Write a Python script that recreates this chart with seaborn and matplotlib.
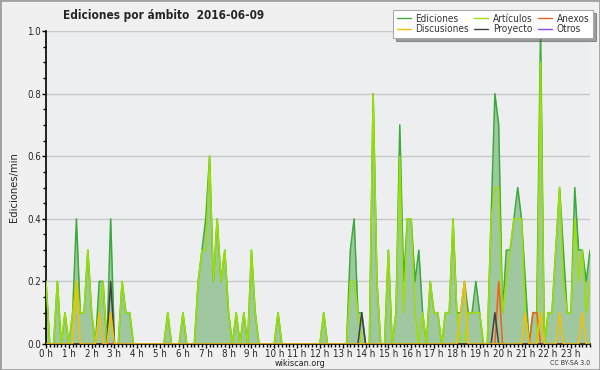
import matplotlib
matplotlib.use("Agg")
import matplotlib.pyplot as plt
import seaborn as sns
import numpy as np
import pandas as pd
from matplotlib.ticker import MultipleLocator

# edits per minute, 10-minute bins (0:00 .. 23:50)
ediciones = [
    0.2, 0, 0, 0.2, 0, 0.1, 0, 0.1, 0.4, 0.1, 0.1, 0.3,
    0.1, 0, 0.2, 0.2, 0, 0.4, 0, 0, 0.2, 0.1, 0.1, 0,
    0, 0, 0, 0, 0, 0, 0, 0, 0.1, 0, 0, 0,
    0.1, 0, 0, 0, 0.2, 0.3, 0.4, 0.6, 0.2, 0.4, 0.2, 0.3,
    0.1, 0, 0.1, 0, 0.1, 0, 0.3, 0.1, 0, 0, 0, 0,
    0, 0.1, 0, 0, 0, 0, 0, 0, 0, 0, 0, 0,
    0, 0.1, 0, 0, 0, 0, 0, 0, 0.3, 0.4, 0.1, 0.1,
    0, 0, 0.8, 0.2, 0, 0, 0.3, 0, 0.1, 0.7, 0.2, 0.4,
    0.4, 0.2, 0.3, 0.1, 0, 0.2, 0.1, 0.1, 0, 0.1, 0.1, 0.4,
    0.1, 0.1, 0.2, 0.1, 0.1, 0.2, 0.1, 0, 0, 0.4, 0.8, 0.7,
    0.1, 0.3, 0.3, 0.4, 0.5, 0.4, 0.2, 0, 0.1, 0.1, 1.0, 0,
    0.1, 0.1, 0.3, 0.5, 0.3, 0.1, 0.1, 0.5, 0.3, 0.3, 0.2, 0.3,
]
articulos = [
    0.2, 0, 0, 0.2, 0, 0.1, 0, 0.1, 0.2, 0.1, 0.1, 0.3,
    0.1, 0, 0.1, 0.2, 0, 0.1, 0, 0, 0.2, 0.1, 0.1, 0,
    0, 0, 0, 0, 0, 0, 0, 0, 0.1, 0, 0, 0,
    0.1, 0, 0, 0, 0.2, 0.3, 0.3, 0.6, 0.2, 0.4, 0.2, 0.3,
    0.1, 0, 0.1, 0, 0.1, 0, 0.3, 0.1, 0, 0, 0, 0,
    0, 0.1, 0, 0, 0, 0, 0, 0, 0, 0, 0, 0,
    0, 0.1, 0, 0, 0, 0, 0, 0, 0.2, 0.2, 0.1, 0,
    0, 0, 0.8, 0.2, 0, 0, 0.3, 0, 0.1, 0.6, 0.1, 0.4,
    0.4, 0.1, 0, 0.1, 0, 0.2, 0.1, 0.1, 0, 0.1, 0.1, 0.4,
    0.1, 0, 0, 0.1, 0.1, 0.1, 0.1, 0, 0, 0.4, 0.5, 0.5,
    0.1, 0.2, 0.3, 0.4, 0.4, 0.4, 0.1, 0, 0, 0, 0.9, 0,
    0.1, 0.1, 0.3, 0.5, 0.2, 0.1, 0.1, 0.4, 0.2, 0.3, 0.1, 0.2,
]
discusiones = [0] * 144
for i, v in {8: 0.2, 14: 0.1, 17: 0.1, 109: 0.1, 110: 0.2, 126: 0.1,
             130: 0.1, 135: 0.1, 141: 0.1}.items():
    discusiones[i] = v
proyecto = [0] * 144
for i, v in {17: 0.2, 83: 0.1, 118: 0.1}.items():
    proyecto[i] = v
anexos = [0] * 144
for i, v in {119: 0.2, 128: 0.1, 129: 0.1}.items():
    anexos[i] = v
otros = [0] * 144

hours = np.arange(144) / 6
df = pd.DataFrame({
    'hora': hours,
    'Ediciones': ediciones,
    'Artículos': articulos,
    'Discusiones': discusiones,
    'Proyecto': proyecto,
    'Anexos': anexos,
    'Otros': otros,
})

sns.set_style("ticks")
plt.rcParams['font.family'] = ['DejaVu Sans']
plt.rcParams['font.stretch'] = 'condensed'

colors = {
    'Ediciones': '#3aaa3a',
    'Artículos': '#9be000',
    'Discusiones': '#f5c000',
    'Proyecto': '#404040',
    'Anexos': '#f06020',
    'Otros': '#9040f0',
}

fig = plt.figure(figsize=(6, 3.7), dpi=100, facecolor='#f0f0f0')
ax = fig.add_axes([46 / 600, 1 - 344 / 370, 544 / 600, 313 / 370])
ax.set_facecolor('#eceef0')

ax.fill_between(df['hora'], df['Ediciones'], color='#a0c8a0', lw=0, zorder=1)
for name in ['Ediciones', 'Artículos', 'Otros', 'Anexos', 'Proyecto', 'Discusiones']:
    sns.lineplot(data=df, x='hora', y=name, ax=ax, color=colors[name],
                 lw=1.1, label=name, zorder=3, legend=False)

ax.set_xlim(0, 143 / 6)
ax.set_ylim(0, 1.0)
ax.xaxis.set_major_locator(MultipleLocator(1))
ax.xaxis.set_minor_locator(MultipleLocator(1 / 6))
ax.xaxis.set_major_formatter(plt.FuncFormatter(lambda v, p: f"{int(round(v))} h"))
ax.yaxis.set_major_locator(MultipleLocator(0.2))
ax.yaxis.set_minor_locator(MultipleLocator(0.05))
ax.yaxis.set_major_formatter(plt.FuncFormatter(lambda v, p: f"{v:.1f}"))
ax.tick_params(axis='both', which='major', labelsize=7, length=3, width=1,
               color='black', pad=0.5)
ax.tick_params(axis='both', which='minor', length=2.5, width=1, color='black')
ax.grid(axis='y', color='#c8c8c8', lw=1)
ax.set_axisbelow(True)
for s in ['top', 'right']:
    ax.spines[s].set_visible(False)
for s in ['left', 'bottom']:
    ax.spines[s].set_linewidth(1.2)
    ax.spines[s].set_color('black')
ax.set_xlabel('')
ax.set_ylabel('Ediciones/min', fontsize=8, labelpad=6)

handles = {h.get_label(): h for h in ax.get_lines() if h.get_label() in colors}
order = ['Ediciones', 'Discusiones', 'Artículos', 'Proyecto', 'Anexos', 'Otros']
leg = fig.legend([handles[n] for n in order], order, ncol=3,
                 loc='upper right', bbox_to_anchor=(593 / 600, 1 - 10 / 370),
                 fontsize=7.2, frameon=True, fancybox=False, shadow=True,
                 handlelength=1.4, handletextpad=0.5, columnspacing=0.5,
                 labelspacing=0.1, borderpad=0.35, borderaxespad=0)
leg.get_frame().set_edgecolor('#aaaaaa')
leg.get_frame().set_facecolor('white')
leg.get_frame().set_linewidth(0.8)
for h in leg.legend_handles:
    h.set_linewidth(1.0)
for t in leg.get_texts():
    t.set_color('#333333')

fig.text(164 / 600, 1 - 15 / 370, 'Ediciones por ámbito  2016-06-09',
         fontsize=8.5, fontweight='bold', ha='center', va='center')
fig.text(300 / 600, 1 - 363 / 370, 'wikiscan.org', fontsize=6.5,
         ha='center', va='center', color='#222222')
fig.text(590 / 600, 1 - 363 / 370, 'CC BY-SA 3.0', fontsize=5,
         ha='right', va='center', color='#333333')
fig.patches.append(plt.Rectangle((0, 0), 1, 1, transform=fig.transFigure,
                                 fill=False, edgecolor='#a0a0a0', lw=2))

fig.savefig('out.png', dpi=100, facecolor=fig.get_facecolor())
